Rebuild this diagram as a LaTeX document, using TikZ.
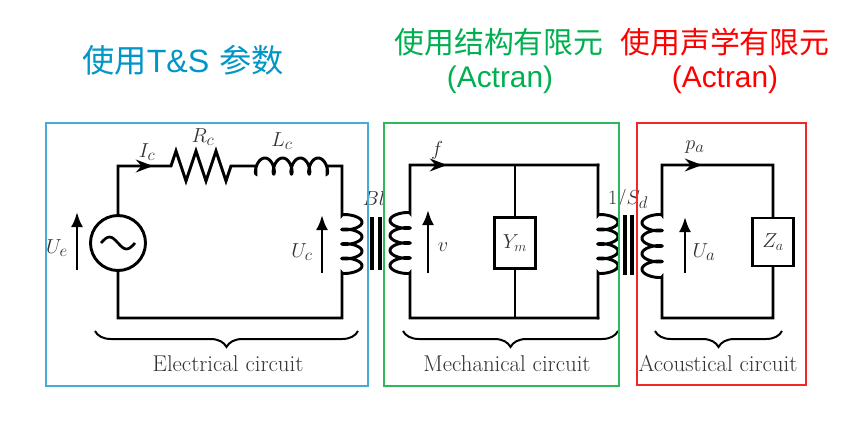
\documentclass[tikz,border=0pt]{standalone}
\usepackage{fontspec}
\newfontfamily\cjk{Noto Sans CJK SC}
\newfontfamily\arialfont{Liberation Sans}
\usetikzlibrary{arrows.meta}
\usetikzlibrary{decorations.pathreplacing}
\definecolor{tsblue}{RGB}{0,150,200}
\definecolor{boxblue}{RGB}{70,172,212}
\definecolor{femgreen}{RGB}{0,176,80}
\definecolor{boxgreen}{RGB}{46,184,90}
\definecolor{femred}{RGB}{255,0,0}
\definecolor{boxred}{RGB}{240,40,40}
\definecolor{inkgray}{RGB}{50,50,50}
\tikzstyle{wire}=[line width=2.5pt, line cap=rect]
\tikzstyle{core}=[line width=2.6pt]
\tikzstyle{current}=[line width=2.5pt, -{Stealth[length=5.1mm, width=3.8mm]}]
\tikzstyle{varrow}=[line width=2.3pt, -{Latex[length=4.5mm, width=3.6mm]}]
\tikzstyle{impedance}=[draw, line width=2.5pt, minimum width=12.3mm, minimum height=15.3mm, inner sep=0, font=\fontsize{18}{20}\selectfont, text=inkgray]
\tikzstyle{source}=[draw, circle, line width=2.5pt, minimum size=16.5mm, inner sep=0]
\tikzstyle{sym}=[text=inkgray, font=\fontsize{19}{21}\selectfont]
\tikzstyle{circuitname}=[text=inkgray, font=\fontsize{19.5}{22}\selectfont]
\tikzstyle{underbrace}=[decorate, decoration={brace, amplitude=4.8mm}, line width=1.7pt]
\tikzstyle{region}=[line width=1pt]
\tikzstyle{heading}=[font=\fontsize{25.5}{30}\selectfont]
% coil along a vertical wire: x, top y, bottom y, side (1 right, -1 left)
\newcommand{\vcoil}[4]{-- plot[domain=0:8*pi, samples=161, variable=\t]
  ({#1+#4*(10-10*cos(\t r))}, {#2+(#3-#2)/(8*pi)*(\t-1.4*sin(\t r))})}
% coil along a horizontal wire: left x, right x, wire y
\newcommand{\hcoil}[3]{-- plot[domain=0:8*pi, samples=161, variable=\t]
  ({#1+(#2-#1)/(8*pi)*(\t-1.4*sin(\t r))}, {#3+8*cos(\t r)})}

\begin{document}
\begin{tikzpicture}[x=0.3mm, y=-0.3mm]
  \useasboundingbox[fill=white] (0,0) rectangle (855,426);

  % headings
  \node[heading, text=tsblue, font=\fontsize{27.5}{30}\selectfont] (ts) at (183,60) {{\cjk 使用}{\arialfont T\&S} {\cjk 参数}};
  \node[heading, text=femgreen] (struct) at (499,42) {\cjk 使用结构有限元};
  \node[heading, text=femgreen] (struct-tool) at (500,80) {\arialfont (Actran)};
  \node[heading, text=femred] (acou) at (725,42) {\cjk 使用声学有限元};
  \node[heading, text=femred] (acou-tool) at (725,80) {\arialfont (Actran)};

  % electrical circuit
  \node[source] (src) at (118,243) {};
  \coordinate (e-tl) at (118,166);
  \coordinate (ic-tip) at (153,166);
  \coordinate (rc-in) at (171,166);
  \coordinate (rc-out) at (231,166);
  \coordinate (lc-in) at (256,166);
  \coordinate (lc-out) at (327,166);
  \coordinate (e-tr) at (342,166);
  \coordinate (e-br) at (342,318);
  \coordinate (e-bl) at (118,318);

  \draw[wire] (src.north) -- (e-tl) -- (rc-in)
    -- ++(5,-15) -- ++(10,30) -- ++(10,-30) -- ++(10,30) -- ++(10,-30) -- ++(10,30) -- (rc-out)
    -- (lc-in) -- ++(0,8) \hcoil{256}{327}{166} -- (lc-out) -- (e-tr)
    \vcoil{342}{215}{273}{1} -- (e-br) -- (e-bl) -- (src.south);
  \draw[line width=2.3pt] ([xshift=-5.1mm]src.center) sin ++(8.5,-6) cos ++(8.5,6) sin ++(8.5,6) cos ++(8.5,-6);
  \draw[current] (e-tl) -- (ic-tip);

  \coordinate (ue-tail) at (77,270);
  \coordinate (ue-head) at (77,212);
  \coordinate (uc-tail) at (322,273);
  \coordinate (uc-head) at (322,215);
  \draw[varrow] (ue-tail) -- (ue-head);
  \draw[varrow] (uc-tail) -- (uc-head);

  \node[sym] (Ic) at (147,152) {$I_c$};
  \node[sym] (Rc) at (203,137) {$R_c$};
  \node[sym] (Lc) at (282,141) {$L_c$};
  \node[sym] (Ue) at (57,248) {$U_e$};
  \node[sym] (Uc) at (302,252) {$U_c$};

  % transformers
  \foreach \x in {372,380}
    \draw[core] (\x,217) -- (\x,270);
  \foreach \x in {625,632}
    \draw[core] (\x,215) -- (\x,275);
  \node[sym] (Bl) at (374,198) {$Bl$};
  \node[sym] (Sd) at (628,199) {$1/S_d$};

  % mechanical circuit
  \coordinate (m-tl) at (410,165);
  \coordinate (f-tip) at (447,165);
  \coordinate (m-tm) at (515,165);
  \coordinate (m-tr) at (598,165);
  \coordinate (m-br) at (598,318);
  \coordinate (m-bm) at (515,318);
  \coordinate (m-bl) at (410,318);
  \node[impedance] (Ym) at (515,243) {$Y_m$};

  \draw[wire] (m-tr) -- (m-tl) \vcoil{410}{213}{273}{-1} -- (m-bl) -- (m-br);
  \draw[wire] (m-tr) \vcoil{598}{215}{273}{1} -- (m-br);
  \draw[wire] (m-tm) -- (Ym) -- (m-bm);
  \draw[current] (m-tl) -- (f-tip);

  \coordinate (v-tail) at (428,273);
  \coordinate (v-head) at (428,210);
  \draw[varrow] (v-tail) -- (v-head);
  \node[sym] (f) at (437,150) {$f$};
  \node[sym] (v) at (443,247) {$v$};

  % acoustical circuit
  \coordinate (a-tl) at (662,165);
  \coordinate (pa-tip) at (702,165);
  \coordinate (a-tr) at (773,165);
  \coordinate (a-br) at (773,318);
  \coordinate (a-bl) at (662,318);
  \node[impedance, minimum height=14.4mm] (Za) at (773,242) {$Z_a$};

  \draw[wire] (Za) -- (a-tr) -- (a-tl) \vcoil{662}{215}{277}{-1} -- (a-bl) -- (a-br) -- (Za);
  \draw[current] (a-tl) -- (pa-tip);

  \coordinate (ua-tail) at (685,273);
  \coordinate (ua-head) at (685,217);
  \draw[varrow] (ua-tail) -- (ua-head);
  \node[sym] (pa) at (695,147) {$p_a$};
  \node[sym] (Ua) at (704,252) {$U_a$};

  % braces and names
  \draw[underbrace] (358,331) -- (95,331);
  \draw[underbrace] (618,331) -- (403,331);
  \draw[underbrace] (782,331) -- (655,331);
  \node[circuitname] (elec) at (228,364) {Electrical circuit};
  \node[circuitname] (mech) at (507,364) {Mechanical circuit};
  \node[circuitname] (acoustic) at (718,364) {Acoustical circuit};

  % regions
  \draw[region, boxblue] (46,123) rectangle (368,386);
  \draw[region, boxgreen] (384,123) rectangle (619,386);
  \draw[region, boxred] (637,123) rectangle (806,385);
\end{tikzpicture}
\end{document}
